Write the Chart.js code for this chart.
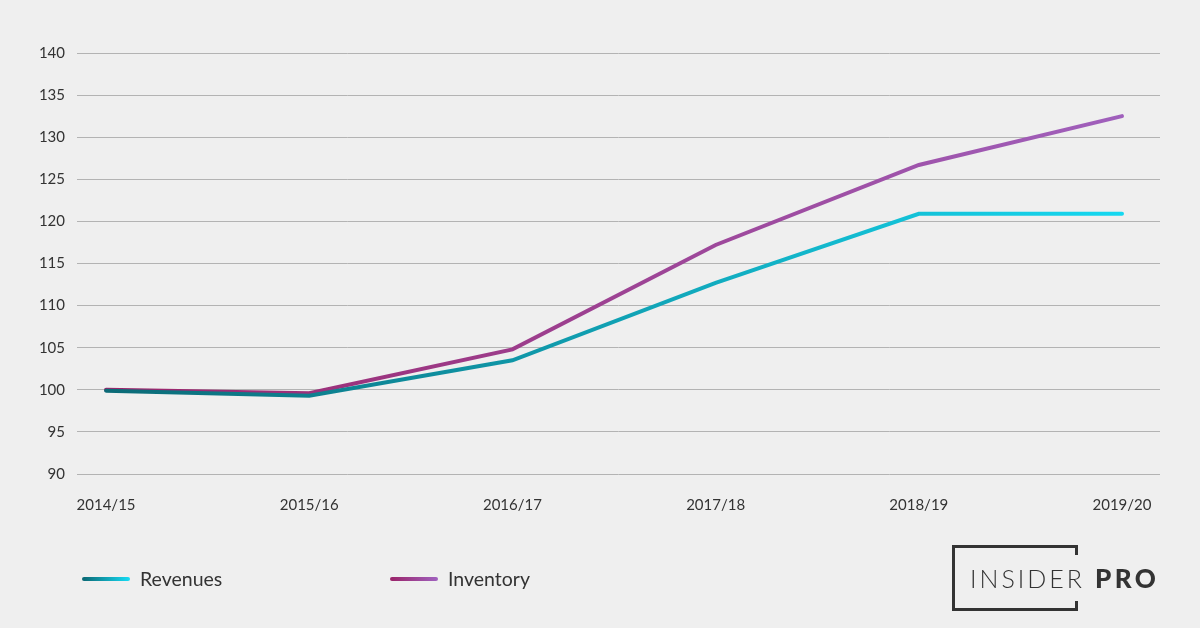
<!DOCTYPE html>
<html>
<head>
<meta charset="utf-8">
<script src="https://cdn.jsdelivr.net/npm/chart.js@4/dist/chart.umd.min.js"></script>
<style>
  html, body { margin: 0; padding: 0; background: #efefef; }
  #wrap { position: relative; width: 1200px; height: 628px; font-family: Lato, "Open Sans", sans-serif; }
  #wrap canvas { position: absolute; left: 0; top: 0; }
  .leg { position: absolute; top: 567px; font-size: 19.5px; color: #333; display: flex; align-items: center; }
  .leg .sw { width: 48px; height: 4px; border-radius: 2px; margin-right: 10px; }
  #logo { position: absolute; left: 952px; top: 545px; width: 126px; height: 66px; }
  #logo .b { position: absolute; background: #333; }
  #logo .txt { position: absolute; left: 18px; top: 19px; font-size: 25px; color: #333; white-space: nowrap; line-height: 28px; }
  #logo .thin { font-weight: 300; letter-spacing: 3px; }
  #logo .bold { font-weight: 900; font-size: 26px; letter-spacing: 3.5px; margin-left: 10px; }
</style>
</head>
<body>
<div id="wrap">
  <canvas id="chart" width="1200" height="628"></canvas>
  <div class="leg" style="left:82px"><div class="sw" style="background:linear-gradient(90deg,#0b6773,#16dcf5)"></div>Revenues</div>
  <div class="leg" style="left:390px"><div class="sw" style="background:linear-gradient(90deg,#9a2368,#a062bf)"></div>Inventory</div>
  <div id="logo">
    <div class="b" style="left:0;top:0;width:3px;height:66px"></div>
    <div class="b" style="left:0;top:0;width:126px;height:3px"></div>
    <div class="b" style="left:0;top:63px;width:126px;height:3px"></div>
    <div class="b" style="left:123px;top:0;width:3px;height:10px"></div>
    <div class="b" style="left:123px;top:56px;width:3px;height:10px"></div>
    <div class="txt"><span class="thin">INSIDER</span><span class="bold">PRO</span></div>
  </div>
</div>
<script>
const categories = ['2014/15', '2015/16', '2016/17', '2017/18', '2018/19', '2019/20'];
const revenues = [99.9, 99.3, 103.5, 112.7, 120.9, 120.9];
const inventory = [100.0, 99.6, 104.8, 117.2, 126.7, 132.5];
const yTicks = [90, 95, 100, 105, 110, 115, 120, 125, 130, 135, 140];

function gradient(ctx, from, to) {
  const area = ctx.chart.chartArea;
  if (!area) return from;
  const g = ctx.chart.ctx.createLinearGradient(area.left, 0, area.right, 0);
  g.addColorStop(0, from);
  g.addColorStop(1, to);
  return g;
}

function points(values) {
  return values.map((v, i) => ({ x: i, y: v }));
}

new Chart(document.getElementById('chart'), {
  type: 'line',
  data: {
    datasets: [
      {
        label: 'Revenues',
        data: points(revenues),
        borderColor: ctx => gradient(ctx, '#0b6773', '#16dcf5'),
        borderWidth: 4,
        borderCapStyle: 'round',
        pointRadius: 0,
        tension: 0
      },
      {
        label: 'Inventory',
        data: points(inventory),
        borderColor: ctx => gradient(ctx, '#9a2368', '#a062bf'),
        borderWidth: 4,
        borderCapStyle: 'round',
        pointRadius: 0,
        tension: 0
      }
    ]
  },
  options: {
    responsive: false,
    animation: false,
    layout: { padding: { left: 0, right: 40, top: 53, bottom: 114 } },
    plugins: { legend: { display: false }, tooltip: { enabled: false } },
    scales: {
      x: {
        type: 'linear',
        min: -0.143,
        max: 5.187,
        afterBuildTicks: s => { s.ticks = categories.map((c, i) => ({ value: i })); },
        afterFit: s => { s.height = 40; },
        ticks: {
          callback: v => categories[v],
          padding: 14,
          color: '#333',
          font: { family: 'Lato', size: 15 },
          maxRotation: 0,
          autoSkip: false
        },
        grid: { display: false },
        border: { display: false }
      },
      y: {
        min: 90,
        max: 140,
        afterBuildTicks: s => { s.ticks = yTicks.map(v => ({ value: v })); },
        afterFit: s => { s.width = 77; },
        ticks: {
          padding: 12,
          color: '#333',
          font: { family: 'Lato', size: 15 }
        },
        grid: { color: '#b3b3b3', lineWidth: 1, drawTicks: false },
        border: { display: false }
      }
    }
  }
});
</script>
</body>
</html>
